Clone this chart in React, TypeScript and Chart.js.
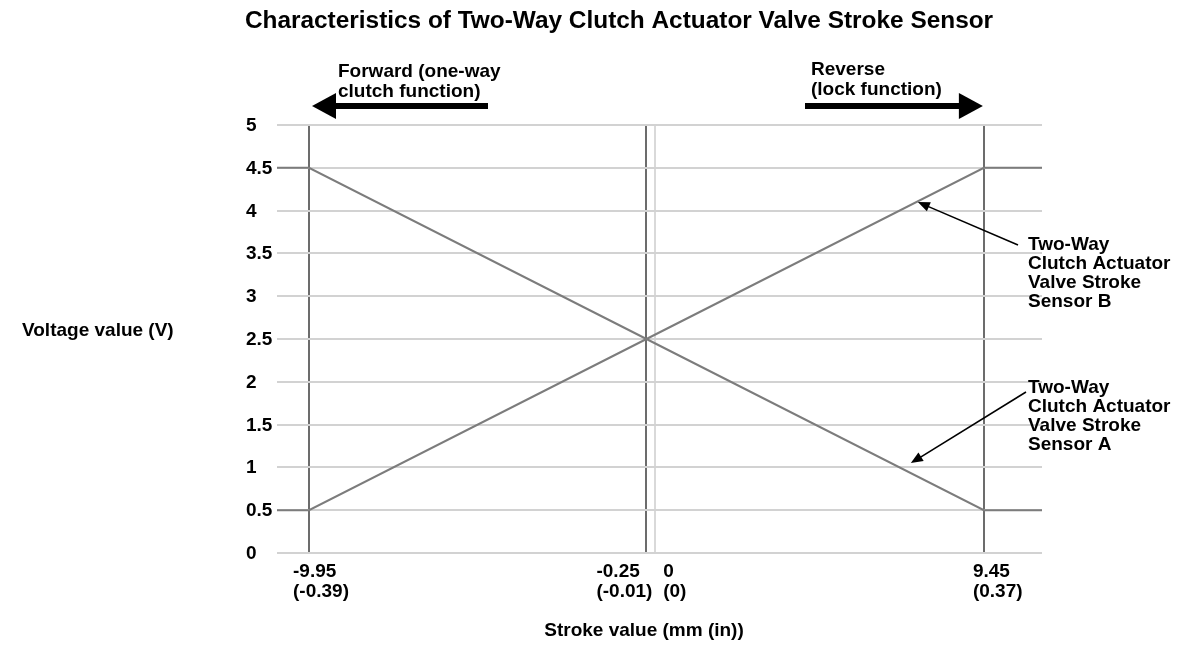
import React, { useEffect, useRef } from "react";
import { Chart, registerables } from "chart.js";

Chart.register(...registerables);

// stroke axis limits (mm)
const strokeMin = -10.87;
const strokeMax = 11.12;

// breakpoints of both sensor curves (mm)
const strokePoints = [strokeMin, -9.95, -0.25, 9.45, strokeMax];
const sensorA = [4.5, 4.5, 2.5, 0.5, 0.5];
const sensorB = [0.5, 0.5, 2.5, 4.5, 4.5];

// x ticks: mm value and inch label
const strokeTicks = [-9.95, -0.25, 0, 9.45];
const strokeTickMm = ["-9.95", "-0.25", "0", "9.45"];
const strokeTickIn = ["(-0.39)", "(-0.01)", "(0)", "(0.37)"];

// y ticks
const voltageTicks = [0, 0.5, 1, 1.5, 2, 2.5, 3, 3.5, 4, 4.5, 5];
const voltageLabels = ["0", "0.5", "1", "1.5", "2", "2.5", "3", "3.5", "4", "4.5", "5"];

// where the callout arrows touch the curves (mm, V)
const calloutB = { x: 7.55, y: 4.1 };
const calloutA = { x: 7.35, y: 1.05 };

const FONT = '"Liberation Sans", Arial, Helvetica, sans-serif';

function arrow(ctx: CanvasRenderingContext2D, x1: number, y1: number, x2: number, y2: number, lw: number, hl: number, hw: number) {
  const ang = Math.atan2(y2 - y1, x2 - x1);
  const bx = x2 - Math.cos(ang) * hl;
  const by = y2 - Math.sin(ang) * hl;
  ctx.lineWidth = lw;
  ctx.beginPath();
  ctx.moveTo(x1, y1);
  ctx.lineTo(bx + Math.cos(ang) * 1, by + Math.sin(ang) * 1);
  ctx.stroke();
  ctx.beginPath();
  ctx.moveTo(x2, y2);
  ctx.lineTo(bx + Math.sin(ang) * hw, by - Math.cos(ang) * hw);
  ctx.lineTo(bx - Math.sin(ang) * hw, by + Math.cos(ang) * hw);
  ctx.closePath();
  ctx.fill();
}

function lines(ctx: CanvasRenderingContext2D, text: string[], x: number, y: number, step: number) {
  text.forEach((t, i) => ctx.fillText(t, x, y + i * step));
}

const annotations = {
  id: "annotations",
  afterDraw(chart: any) {
    const { ctx, chartArea: a } = chart;
    const xs = chart.scales.x;
    const ys = chart.scales.y;
    ctx.save();
    ctx.fillStyle = "#000";
    ctx.strokeStyle = "#000";
    ctx.textBaseline = "alphabetic";

    ctx.font = "bold 24.4px " + FONT;
    ctx.textAlign = "center";
    ctx.fillText("Characteristics of Two-Way Clutch Actuator Valve Stroke Sensor", 611, 20);

    ctx.font = "bold 19px " + FONT;
    ctx.textAlign = "left";

    // y tick labels
    voltageTicks.forEach((v, i) => {
      ctx.fillText(voltageLabels[i], a.left - 31, ys.getPixelForValue(v) + 6);
    });
    ctx.fillText("Voltage value (V)", 14, ys.getPixelForValue(2.5) - 3);

    // x tick labels
    const offs = [-16, -50, 8, -11];
    strokeTicks.forEach((v, i) => {
      const px = xs.getPixelForValue(v) + offs[i];
      ctx.fillText(strokeTickMm[i], px, a.bottom + 24);
      ctx.fillText(strokeTickIn[i], px, a.bottom + 44);
    });
    ctx.textAlign = "center";
    ctx.fillText("Stroke value (mm (in))", 636, a.bottom + 83);
    ctx.textAlign = "left";

    // direction arrows
    const fx = xs.getPixelForValue(-9.95);
    const rx = xs.getPixelForValue(9.45);
    lines(ctx, ["Forward (one-way", "clutch function)"], 330, 69, 20);
    arrow(ctx, 480, 98, fx + 3, 98, 6, 24, 13);
    lines(ctx, ["Reverse", "(lock function)"], 803, 67, 20);
    arrow(ctx, 797, 98, rx - 1, 98, 6, 24, 13);

    // sensor callouts
    lines(ctx, ["Two-Way", "Clutch Actuator", "Valve Stroke", "Sensor B"], 1020, 242, 19);
    arrow(ctx, 1010, 237, xs.getPixelForValue(calloutB.x), ys.getPixelForValue(calloutB.y), 1.6, 12, 5);
    lines(ctx, ["Two-Way", "Clutch Actuator", "Valve Stroke", "Sensor A"], 1020, 385, 19);
    arrow(ctx, 1018, 384, xs.getPixelForValue(calloutA.x), ys.getPixelForValue(calloutA.y), 1.6, 12, 5);

    ctx.restore();
  },
};

const StrokeChart = () => {
  const canvasRef = useRef<HTMLCanvasElement>(null);
  const chartRef = useRef<any>(null);

  useEffect(() => {
    if (chartRef.current) chartRef.current.destroy();
    chartRef.current = new Chart(canvasRef.current!, {
      type: "line",
      data: {
        datasets: [
          {
            label: "Sensor A",
            data: strokePoints.map((x, i) => ({ x, y: sensorA[i] })),
            borderColor: "#7c7c7c",
            borderWidth: 2,
            pointRadius: 0,
            tension: 0,
          },
          {
            label: "Sensor B",
            data: strokePoints.map((x, i) => ({ x, y: sensorB[i] })),
            borderColor: "#7c7c7c",
            borderWidth: 2,
            pointRadius: 0,
            tension: 0,
          },
        ],
      },
      options: {
        animation: false,
        responsive: true,
        maintainAspectRatio: false,
        layout: { padding: { left: 269, right: 149, top: 117, bottom: 95 } },
        plugins: {
          legend: { display: false },
          tooltip: { enabled: false },
          title: { display: false },
        },
        scales: {
          x: {
            type: "linear",
            min: strokeMin,
            max: strokeMax,
            afterBuildTicks: (scale: any) => {
              scale.ticks = strokeTicks.map((value) => ({ value }));
            },
            ticks: { display: false },
            border: { display: false },
            grid: {
              drawTicks: false,
              lineWidth: 2,
              color: (c: any) => (c.tick && c.tick.value === 0 ? "#d9d9d9" : "#6c6c6c"),
            },
          },
          y: {
            min: 0,
            max: 5,
            afterBuildTicks: (scale: any) => {
              scale.ticks = voltageTicks.map((value) => ({ value }));
            },
            ticks: { display: false },
            border: { display: false },
            grid: { drawTicks: false, lineWidth: 2, color: "#d2d2d2" },
          },
        },
      },
      plugins: [annotations],
    });
    return () => {
      if (chartRef.current) {
        chartRef.current.destroy();
        chartRef.current = null;
      }
    };
  }, []);

  return (
    <div style={{ position: "relative", width: 1183, height: 640 }}>
      <canvas ref={canvasRef} />
    </div>
  );
};

export default function App() {
  return <StrokeChart />;
}
